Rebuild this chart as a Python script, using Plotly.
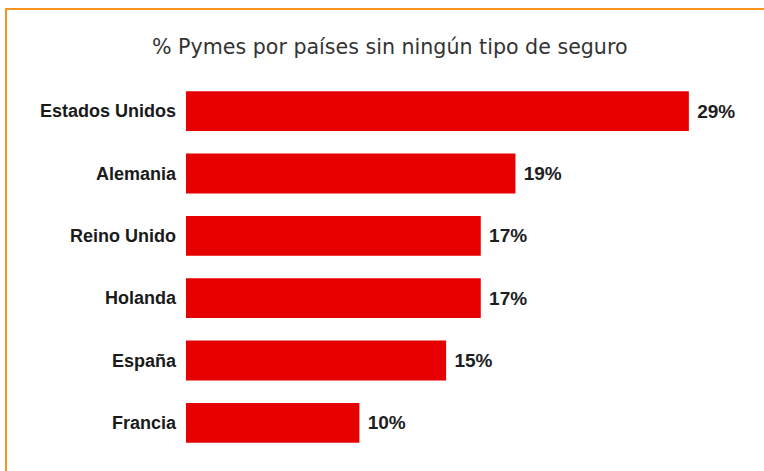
import plotly.graph_objects as go

countries = ["Estados Unidos", "Alemania", "Reino Unido", "Holanda", "España", "Francia"]
values = [29, 19, 17, 17, 15, 10]
labels = [f" {v}%" for v in values]
title_text = "% Pymes por países sin ningún tipo de seguro"

W, H = 764, 471
L, R, T, B = 186, 20, 80, 17
pw = W - L - R
ph = H - T - B

fig = go.Figure(go.Bar(
    x=values, y=countries, orientation="h",
    marker=dict(color="#e60000", line=dict(width=0)),
    text=labels, textposition="outside", cliponaxis=False,
    textfont=dict(family="Liberation Sans", size=19, color="#1e1e1e", weight="bold"),
    width=0.64,
))

def px_x(p):
    return (p - L) / pw

def px_y(p):
    return (H - B - p) / ph

fig.update_layout(
    width=W, height=H,
    margin=dict(l=L, r=R, t=T, b=B),
    paper_bgcolor="white", plot_bgcolor="white",
    showlegend=False,
    xaxis=dict(range=[0, pw / 17.34], visible=False, fixedrange=True),
    yaxis=dict(autorange="reversed", showgrid=False, zeroline=False, showline=False,
               ticks="", ticklabelstandoff=9, fixedrange=True,
               tickfont=dict(family="Liberation Sans", size=18, color="#1a1a1a", weight="bold")),
    annotations=[dict(text=title_text, xref="paper", yref="paper",
                      x=px_x(390), y=px_y(47), xanchor="center", yanchor="middle",
                      showarrow=False,
                      font=dict(family="DejaVu Sans", size=20.6, color="#333333"))],
    shapes=[
        dict(type="line", xref="paper", yref="paper", x0=px_x(6), x1=px_x(6),
             y0=px_y(9), y1=px_y(475), line=dict(color="#f7941d", width=2)),
        dict(type="line", xref="paper", yref="paper", x0=px_x(5), x1=px_x(770),
             y0=px_y(9), y1=px_y(9), line=dict(color="#f7941d", width=2)),
    ],
)

fig.write_html("out.html", config={"displayModeBar": False},
               post_script="document.body.style.margin='0';document.body.style.overflow='hidden';")
